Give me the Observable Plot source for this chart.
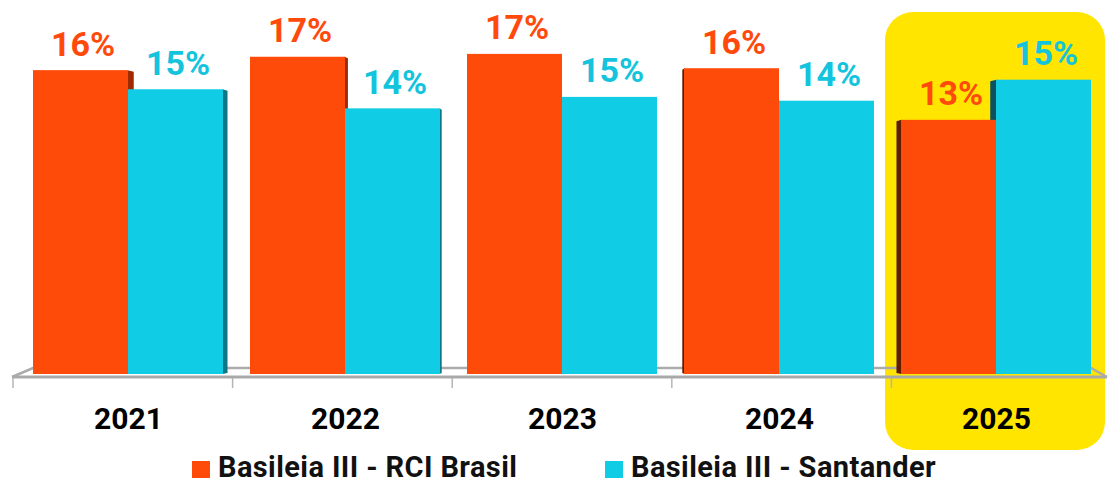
<!DOCTYPE html>
<html>
<head>
<meta charset="utf-8">
<script src="https://cdn.jsdelivr.net/npm/d3@7"></script>
<script src="https://cdn.jsdelivr.net/npm/@observablehq/plot@0.6"></script>
<style>
  html, body { margin: 0; padding: 0; background: #fff; }
  body { width: 1109px; height: 484px; overflow: hidden; font-family: Roboto, "Noto Sans", sans-serif; }
  #legend { position: relative; height: 33px; }
  .item { position: absolute; top: 0; height: 33px; display: flex; align-items: center; }
  .sw { width: 18px; height: 17px; margin-right: 8px; margin-top: 3px; }
  .lt { font-size: 29px; font-weight: 700; color: #111; letter-spacing: 0.4px; line-height: 33px; }
</style>
</head>
<body>
<div id="chart"></div>
<div id="legend"></div>
<script>
// ---- data ----
const years = ["2021", "2022", "2023", "2024", "2025"];
const seriesNames = ["Basileia III - RCI Brasil", "Basileia III - Santander"];
const rciValues = [15.9, 16.6, 16.75, 16.0, 13.3];
const santanderValues = [14.9, 13.9, 14.5, 14.3, 15.4];
const rciLabels = ["16%", "17%", "17%", "16%", "13%"];
const santanderLabels = ["15%", "14%", "15%", "14%", "15%"];
const highlightYear = "2025";

// ---- styles ----
const orange = "#FF4B0A", cyan = "#10CCE4";
const orangeText = "#FF4A0C", cyanText = "#14C4DD";
const sideColors = {
  rightR: "#A02A00", rightS: "#0B7686",
  leftR: "#5E1C00", leftS: "#0A5260"
};

const rci = years.map((y, i) => ({year: y, series: seriesNames[0], value: rciValues[i], label: rciLabels[i]}));
const san = years.map((y, i) => ({year: y, series: seriesNames[1], value: santanderValues[i], label: santanderLabels[i]}));
const rows = rci.concat(san);

const W = 1109, H = 451;

function bw(x) { return x.bandwidth ? x.bandwidth() : 190; }

function highlight(index, scales, values, dims) {
  const x = scales.x, b = bw(x);
  const g = d3.create("svg:g");
  g.append("rect")
    .attr("x", x(highlightYear) - 16).attr("y", 12)
    .attr("width", b + 30).attr("height", dims.height - 13)
    .attr("rx", 28).attr("fill", "#FFE500");
  return g.node();
}

function floor(index, scales, values, dims) {
  const x = scales.x, y = scales.y, b = bw(x);
  const step = x.step ? x.step() : 217.5;
  const x0 = x(years[0]), x1 = x(years[years.length - 1]) + b;
  const cx = (dims.marginLeft + dims.width - dims.marginRight) / 2;
  const base = y(0);
  const g = d3.create("svg:g").attr("fill", "none");
  const fl = x0 - 21, fr = dims.width - 2;
  // back edge + slanted ends
  g.append("path")
    .attr("d", `M${fl},${base + 3}L${x0},${base - 6}L${x1},${base - 6}L${fr},${base + 3}`)
    .attr("stroke", "#ABABAB").attr("stroke-width", 2.5);
  // front edge
  g.append("line").attr("x1", fl).attr("x2", fr).attr("y1", base + 3).attr("y2", base + 3)
    .attr("stroke", "#A9A9A9").attr("stroke-width", 3);
  // ticks at band boundaries
  years.forEach(yr => {
    const bx = x(yr) - (step - b) / 2;
    const tx = cx + (bx - cx) * 1.012;
    g.append("line").attr("x1", tx).attr("x2", tx).attr("y1", base + 4).attr("y2", base + 14)
      .attr("stroke", "#B5B5B5").attr("stroke-width", 1.5);
  });
  return g.node();
}

function sides(index, scales, values, dims) {
  const x = scales.x, y = scales.y, b = bw(x);
  const cx = (dims.marginLeft + dims.width - dims.marginRight) / 2;
  const g = d3.create("svg:g");
  rows.forEach(d => {
    const isR = d.series === seriesNames[0];
    const left = x(d.year) + (isR ? 0 : b / 2);
    const right = left + b / 2;
    const mid = (left + right) / 2;
    const w = Math.abs(mid - cx) * 0.013;
    if (w < 1) return;
    const onRight = mid < cx;
    const sx = onRight ? right - 0.5 : left - w + 0.5;
    const top = y(d.value);
    const fill = onRight ? (isR ? sideColors.rightR : sideColors.rightS) : (isR ? sideColors.leftR : sideColors.leftS);
    g.append("path")
      .attr("d", onRight
        ? `M${sx},${top}L${sx + w},${top + 1.5}L${sx + w},${y(0) - 1}L${sx},${y(0)}Z`
        : `M${sx},${top + 1.5}L${sx + w},${top}L${sx + w},${y(0)}L${sx},${y(0) - 1}Z`)
      .attr("fill", fill);
  });
  return g.node();
}

const chart = Plot.plot({
  width: W,
  height: H,
  marginLeft: 31.5,
  marginRight: 17.5,
  marginTop: 30,
  marginBottom: 77,
  style: {fontFamily: "Roboto, 'Noto Sans', sans-serif", background: "transparent", overflow: "visible"},
  x: {domain: years, paddingInner: 0.126, paddingOuter: 0, label: null},
  y: {domain: [0, 18], axis: null},
  marks: [
    highlight,
    floor,
    sides,
    Plot.barY(rci, {x: "year", y: "value", fill: orange, insetRight: 95}),
    Plot.barY(san, {x: "year", y: "value", fill: cyan, insetLeft: 95}),
    Plot.text(rci, {x: "year", y: "value", text: "label", dx: -45.5, dy: -15, lineAnchor: "bottom",
      fontSize: 34, fontWeight: 700, fill: orangeText}),
    Plot.text(san, {x: "year", y: "value", text: "label", dx: 49.5, dy: -15, lineAnchor: "bottom",
      fontSize: 34, fontWeight: 700, fill: cyanText}),
    Plot.axisX({tickSize: 0, tickPadding: 33, fontSize: 30, fontWeight: 700, fill: "#000", label: null})
  ]
});
document.getElementById("chart").appendChild(chart);

// ---- legend ----
const legend = d3.select("#legend");
const legendColors = [orange, cyan];
const legendLeft = [192, 605];
seriesNames.forEach((name, i) => {
  const it = legend.append("div").attr("class", "item").style("left", legendLeft[i] + "px");
  it.append("div").attr("class", "sw").style("background", legendColors[i]);
  it.append("span").attr("class", "lt").text(name);
});
</script>
</body>
</html>
